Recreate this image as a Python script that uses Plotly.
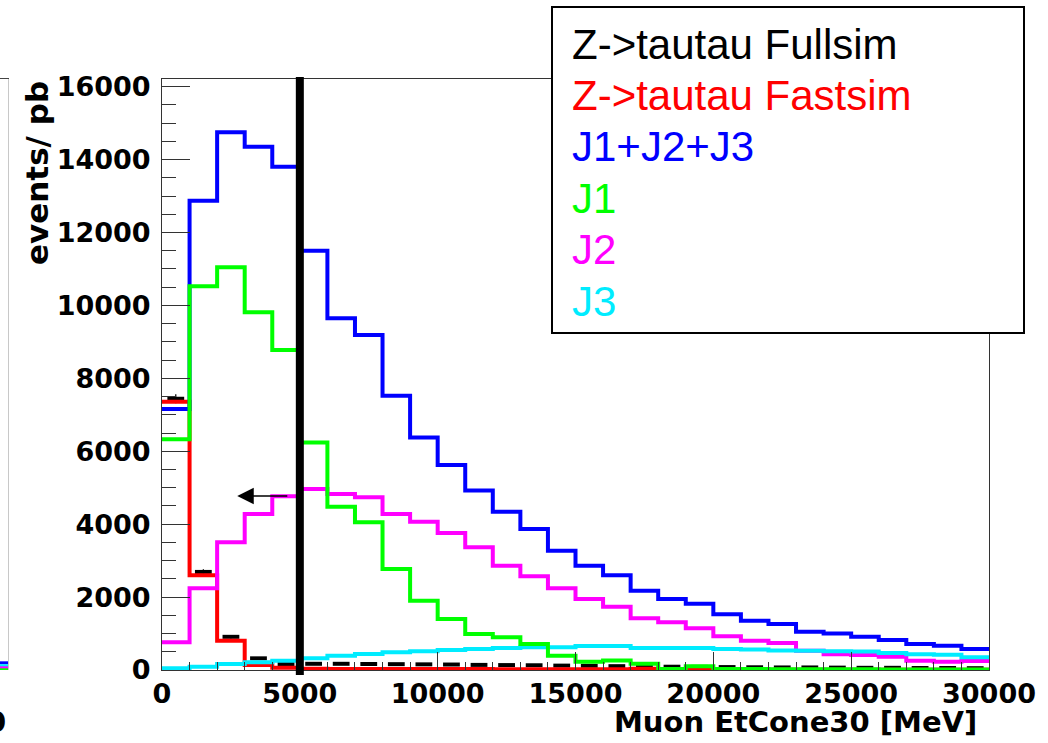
import plotly.graph_objects as go

# ---------------------------------------------------------------------------
# Muon EtCone30 distributions, 1 GeV bins from 0 to 30 GeV (events / pb)
# ---------------------------------------------------------------------------
BIN_WIDTH = 1000
BIN_EDGES = list(range(0, 30001, BIN_WIDTH))
CUT_VALUE = 5000

ztt_fullsim = [7440, 2690, 910, 320, 165, 170, 170, 165, 160, 155,
               150, 140, 135, 130, 120, 115, 105, 95, 90, 85,
               80, 75, 70, 70, 65, 60, 60, 55, 55, 50]
ztt_fullsim_err = [125, 70, 45, 25, 20, 20, 20, 20, 20, 20,
                   20, 18, 18, 18, 16, 16, 15, 15, 14, 14,
                   14, 13, 13, 13, 12, 12, 12, 12, 12, 12]
ztt_fastsim = [7360, 2600, 805, 140, 65, 35, 30, 30, 28, 25,
               25, 25, 22, 20, 20, 20, 20, 35, 15, 10,
               10, 8, 8, 6, 6, 5, 5, 5, 5, 5]
j1_j2_j3 = [7160, 12870, 14750, 14350, 13800, 11500, 9650, 9190, 7520, 6380,
            5620, 4920, 4340, 3870, 3270, 2860, 2600, 2175, 1945, 1815,
            1530, 1353, 1262, 1051, 1000, 914, 823, 713, 667, 576]
j1 = [6330, 10525, 11046, 9812, 8778, 6240, 4480, 4051, 2770, 1901,
      1399, 987, 896, 713, 393, 228, 260, 170, 27, 100,
      25, 25, 20, 20, 20, 20, 15, 15, 15, 15]
j2 = [759, 2241, 3503, 4279, 4764, 4965, 4828, 4737, 4279, 4068,
      3758, 3365, 2862, 2570, 2241, 1947, 1737, 1418, 1308, 1144,
      924, 804, 740, 530, 430, 411, 360, 256, 228, 250]
j3 = [47, 91, 165, 210, 256, 320, 390, 439, 485, 512,
      549, 576, 603, 622, 622, 655, 655, 605, 605, 600,
      575, 560, 535, 530, 515, 510, 466, 430, 420, 348]

# last bin of the neighbouring panel (only its right edge is in view)
neighbour_labels = ["J1+J2+J3", "J3", "J2", "J1"]
neighbour_last_bin = [197, 118, 60, 5]

LEGEND_ENTRIES = ["Z->tautau Fullsim", "Z->tautau Fastsim", "J1+J2+J3",
                  "J1", "J2", "J3"]
COLORS = {
    "Z->tautau Fullsim": "#000000",
    "Z->tautau Fastsim": "#ff0000",
    "J1+J2+J3": "#0000ff",
    "J1": "#00ff00",
    "J2": "#ff00ff",
    "J3": "#00ecff",
}

Y_MAX = 16210
W, H = 1048, 743
M_L, M_R, M_T, M_B = 0, 59, 79, 73
PAPER_W = W - M_L - M_R
PLOT_H = H - M_T - M_B
AXIS_LEFT = 162          # left edge of the main frame, px
NEIGHBOUR_RIGHT = 8      # right edge of the neighbouring frame, px


def px_x(p):
    return (p - M_L) / PAPER_W


def px_y(p):
    return (H - M_B - p) / PLOT_H


BOLD = dict(family="DejaVu Sans", color="black", weight="bold")

fig = go.Figure()


def step_trace(name, values, width=4):
    return go.Scatter(
        x=BIN_EDGES, y=values + [values[-1]], mode="lines", name=name,
        line=dict(color=COLORS[name], width=width, shape="hv"),
        showlegend=False, hoverinfo="skip",
    )


centres = [e + BIN_WIDTH / 2 for e in BIN_EDGES[:-1]]
fig.add_trace(go.Scatter(
    x=centres, y=ztt_fullsim, mode="markers", name="Z->tautau Fullsim",
    marker=dict(symbol="line-ew", size=12, color="black",
                line=dict(width=4, color="black")),
    error_y=dict(type="data", array=ztt_fullsim_err, thickness=1.2, width=0,
                 color="black"),
    showlegend=False, hoverinfo="skip",
))
fig.add_trace(step_trace("Z->tautau Fastsim", ztt_fastsim))
fig.add_trace(step_trace("J1+J2+J3", j1_j2_j3))
fig.add_trace(step_trace("J2", j2))
fig.add_trace(step_trace("J3", j3))
fig.add_trace(step_trace("J1", j1))

# neighbouring panel: tails of its histograms at the right frame edge
for lab, v in zip(neighbour_labels, neighbour_last_bin):
    fig.add_trace(go.Scatter(
        x=[29000, 30000], y=[v, v], mode="lines", xaxis="x2", yaxis="y2",
        line=dict(color=COLORS[lab], width=3), showlegend=False,
        hoverinfo="skip",
    ))

fig.update_layout(
    width=W, height=H, template="none",
    margin=dict(l=M_L, r=M_R, t=M_T, b=M_B, pad=0),
    paper_bgcolor="white", plot_bgcolor="white",
    xaxis=dict(
        domain=[px_x(AXIS_LEFT), 1], range=[0, 30000], tick0=0, dtick=5000,
        tickformat="d", ticks="inside", ticklen=18, tickwidth=1,
        tickcolor="#333", minor=dict(dtick=1000, ticks="inside", ticklen=8,
                                     tickwidth=1, tickcolor="#333"),
        showgrid=False, zeroline=False, showline=True, linecolor="#333",
        linewidth=1, mirror=True, tickfont=dict(size=27, **BOLD),
        automargin=False, ticklabelstandoff=0,
    ),
    yaxis=dict(
        range=[0, Y_MAX], tick0=0, dtick=2000, tickformat="d",
        ticks="inside", ticklen=28, tickwidth=1, tickcolor="#333",
        minor=dict(dtick=500, ticks="inside", ticklen=14, tickwidth=1,
                   tickcolor="#333"),
        showgrid=False, zeroline=False, showline=True, linecolor="#333",
        linewidth=1, mirror=True, tickfont=dict(size=27, **BOLD),
        automargin=False, ticklabelstandoff=5,
    ),
    xaxis2=dict(
        domain=[0, px_x(NEIGHBOUR_RIGHT)], range=[29000, 30000],
        anchor="y2", side="top", showline=True, linecolor="#444",
        linewidth=1, showticklabels=False, ticks="", showgrid=False,
        zeroline=False,
    ),
    yaxis2=dict(
        domain=[0, 1], range=[0, Y_MAX], anchor="x2", side="right",
        showline=True, linecolor="#c8c8c8", linewidth=1,
        showticklabels=False, ticks="", showgrid=False, zeroline=False,
    ),
)

shapes = [
    # cut on EtCone30
    dict(type="line", xref="x", yref="paper", x0=CUT_VALUE, x1=CUT_VALUE,
         y0=px_y(675), y1=px_y(77), line=dict(color="black", width=8),
         layer="above"),
    # legend frame
    dict(type="rect", xref="paper", yref="paper",
         x0=px_x(552), x1=px_x(1024), y0=px_y(333), y1=px_y(7),
         line=dict(color="black", width=2), fillcolor="white",
         layer="above"),
]
fig.update_layout(shapes=shapes)

annotations = [
    # arrow pointing to the selected side of the cut
    dict(x=CUT_VALUE - 2270, y=4770, ax=CUT_VALUE - 400, ay=4770,
         xref="x", yref="y", axref="x", ayref="y", text="",
         showarrow=True, arrowhead=2, arrowsize=2.2, arrowwidth=1.5,
         arrowcolor="black"),
    dict(text="events/ pb", xref="paper", yref="paper", x=px_x(37),
         y=px_y(79), xanchor="center", yanchor="top", textangle=-90,
         showarrow=False, font=dict(size=31, **BOLD)),
    dict(text="Muon EtCone30 [MeV]", xref="paper", yref="paper",
         x=px_x(979), y=px_y(722), xanchor="right", yanchor="middle",
         showarrow=False, font=dict(size=29, **BOLD)),
    dict(text="0", xref="paper", yref="paper", x=px_x(NEIGHBOUR_RIGHT),
         y=px_y(722), xanchor="right", yanchor="middle", showarrow=False,
         font=dict(size=29, **BOLD)),
]
legend_top, legend_step = 44, 51.4
for i, name in enumerate(LEGEND_ENTRIES):
    annotations.append(dict(
        text=name, xref="paper", yref="paper", x=px_x(570),
        y=px_y(legend_top + i * legend_step), xanchor="left",
        yanchor="middle", showarrow=False,
        font=dict(family="Liberation Sans", size=42, color=COLORS[name]),
    ))
fig.update_layout(annotations=annotations)

fig.write_html("out.html")
